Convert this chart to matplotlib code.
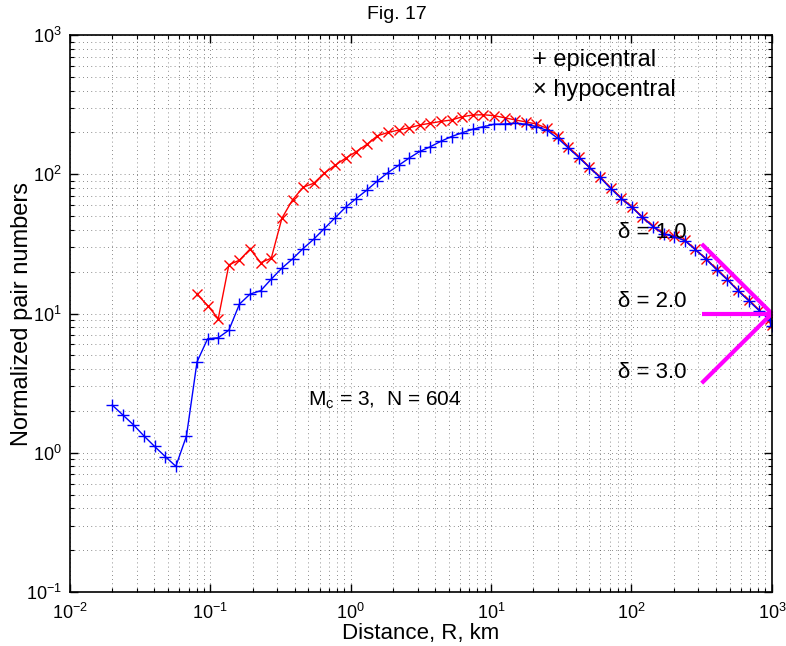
import numpy as np
import matplotlib.pyplot as plt
from matplotlib.ticker import LogLocator, NullFormatter

plt.rcParams['font.family'] = ['Liberation Sans', 'DejaVu Sans']
plt.rcParams['mathtext.fontset'] = 'custom'
plt.rcParams['mathtext.rm'] = 'Liberation Sans'
plt.rcParams['mathtext.it'] = 'Liberation Sans:italic'

# distance grid (km)
r = [0.0200, 0.0238, 0.0283, 0.0337, 0.0401, 0.0477, 0.0568, 0.0676,
     0.0804, 0.0957, 0.1139, 0.1355, 0.1613, 0.1919, 0.2284, 0.2718,
     0.3234, 0.3849, 0.4580, 0.5451, 0.6486, 0.7719, 0.9185, 1.093,
     1.301, 1.548, 1.842, 2.192, 2.609, 3.104, 3.694, 4.395,
     5.231, 6.224, 7.407, 8.814, 10.49, 12.48, 14.85, 17.67,
     21.03, 25.03, 29.78, 35.44, 42.18, 50.19, 59.72, 71.07,
     84.57, 100.6, 119.8, 142.5, 169.6, 201.8, 240.2, 285.8,
     340.1, 404.7, 481.6, 573.1, 682.0, 811.6, 965.8, 1000.0]

# epicentral pair numbers
epi = [2.2, 1.87, 1.59, 1.32, 1.11, 0.94, 0.80, 1.32,
       4.5, 6.6, 6.7, 7.6, 11.7, 13.8, 14.6, 17.7,
       21.2, 24.7, 29.3, 34.2, 40.8, 48.6, 58, 67,
       77, 89.6, 103, 116, 131, 146, 158, 173,
       187, 199, 211, 220, 229, 230, 233, 229,
       220, 207, 182, 155, 132, 112, 95, 79,
       67, 58, 49, 42, 37.3, 35.7, 33.4, 28.7,
       24.6, 20.6, 17.5, 14.6, 12.4, 10.5, 9.0, 8.2]

# hypocentral pair numbers (starts at r index 8)
r_hyp = r[8:]
hyp = [13.8, 11.4, 9.2, 22.4, 24.2, 29.1, 23.2, 25,
       48.4, 65.5, 80.8, 86.3, 102, 116, 130.5, 145.5,
       164, 189, 200, 208, 216, 226, 233, 240,
       246, 259, 267, 268, 264, 255, 246, 238,
       230, 214, 190, 158, 134, 113, 96, 80,
       68, 58.5, 49.5, 42.5, 37.5, 36, 33.5, 28.9,
       24.8, 20.8, 17.6, 14.7, 12.5, 10.6, 9.1, 8.3]

# reference slopes r^(delta-2) through (1000, 10)
deltas = [1.0, 2.0, 3.0]
r_ref = [10**2.5, 1000.0]
y_end = 10.0

fig = plt.figure(figsize=(7.86, 6.46), dpi=100)
ax = fig.add_axes([0.089, 0.0836, 0.893, 0.862])

ax.plot(r_hyp, hyp, color='red', lw=1, marker='x', ms=7, mew=1)
ax.plot(r, epi, color='blue', lw=1, marker='+', ms=9, mew=1)

for d in deltas:
    yr = [y_end * (x / r_ref[1]) ** (d - 2) for x in r_ref]
    ax.plot(r_ref, yr, color='#ff00ff', lw=3, solid_capstyle='butt', clip_on=False)

ax.set_xscale('log')
ax.set_yscale('log')
ax.set_xlim(1e-2, 1e3)
ax.set_ylim(1e-1, 1e3)

ax.xaxis.set_major_locator(LogLocator(base=10, numticks=10))
ax.yaxis.set_major_locator(LogLocator(base=10, numticks=10))
ax.xaxis.set_minor_locator(LogLocator(base=10, subs=np.arange(2, 10), numticks=20))
ax.yaxis.set_minor_locator(LogLocator(base=10, subs=np.arange(2, 10), numticks=20))
ax.xaxis.set_minor_formatter(NullFormatter())
ax.yaxis.set_minor_formatter(NullFormatter())

ax.grid(True, which='both', ls=(0, (1, 4)), color='k', lw=0.6, alpha=0.6)
ax.tick_params(which='both', direction='in', top=True, right=True, labelsize=13)
ax.tick_params(which='major', length=6, width=1)
ax.tick_params(which='minor', length=3, width=0.8)
ax.tick_params(axis='x', which='major', pad=8)
ax.tick_params(axis='y', which='major', pad=6)
for s in ax.spines.values():
    s.set_linewidth(1.2)

ax.set_xlabel('Distance, R, km', fontsize=16, labelpad=0)
ax.set_ylabel('Normalized pair numbers', fontsize=17)
ax.yaxis.set_label_coords(-0.053, 0.5)
fig.suptitle('Fig. 17', x=0.505, y=0.977, fontsize=14, va='center')

ax.text(0.66, 0.955, '+ epicentral', transform=ax.transAxes, fontsize=17, va='center')
ax.text(0.66, 0.901, '\u00d7 hypocentral', transform=ax.transAxes, fontsize=17, va='center')

for d, yf in zip(deltas, [0.646, 0.521, 0.395]):
    ax.text(0.781, yf, '\u03b4 = %.1f' % d, transform=ax.transAxes, fontsize=16, va='center')

ax.text(0.339, 0.345, r'M$_\mathregular{c}$ = 3,  N = 604', transform=ax.transAxes,
        fontsize=15, va='center')

fig.savefig('out.png', dpi=100)
